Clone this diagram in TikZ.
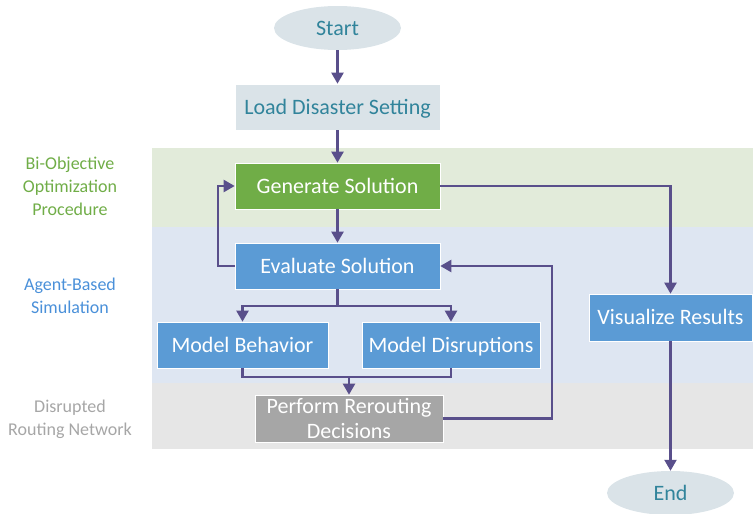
\documentclass[tikz,border=0pt]{standalone}
\usepackage{fontspec}
\setmainfont{Carlito}
\usetikzlibrary{arrows.meta,shapes.geometric}
\definecolor{bandgreen}{HTML}{E2EBDA}
\definecolor{bandblue}{HTML}{DEE6F2}
\definecolor{bandgray}{HTML}{E6E6E6}
\definecolor{boxgreen}{HTML}{70AD47}
\definecolor{boxblue}{HTML}{5B9BD5}
\definecolor{boxgray}{HTML}{A6A6A6}
\definecolor{lightbox}{HTML}{DAE3E8}
\definecolor{tealtext}{HTML}{31849B}
\definecolor{arrowcol}{HTML}{594F8B}
\definecolor{lblgreen}{HTML}{70AD47}
\definecolor{lblblue}{HTML}{4A90D9}
\definecolor{lblgray}{HTML}{A6A6A6}
\begin{document}
\begin{tikzpicture}[x=1pt,y=-1pt,
  procbox/.style={rectangle, draw=white, line width=0.6pt, inner sep=0pt,
    minimum height=46pt, text height=17pt, text depth=2.5pt,
    font=\fontsize{22}{24}\selectfont, text=white},
  terminal/.style={ellipse, fill=lightbox, inner sep=0pt, minimum width=127pt,
    minimum height=44pt, text height=17pt, text depth=2.5pt,
    font=\fontsize{22}{24}\selectfont, text=tealtext},
  lane/.style={font=\fontsize{18}{23}\selectfont, align=center},
  arr/.style={draw=arrowcol, line width=2.2pt,
    -{Triangle[width=12pt,length=11pt]}},
  ln/.style={draw=arrowcol, line width=2.2pt}]
\useasboundingbox (0,0) rectangle (753,514);

% swim lanes
\fill[bandgreen] (152,148) rectangle (753,227);
\fill[bandblue]  (152,227) rectangle (753,383);
\fill[bandgray]  (152,383) rectangle (753,449);

% lane titles
\node[lane, text=lblgreen] (lgreen) at (70,186) {Bi-Objective\\Optimization\\Procedure};
\node[lane, text=lblblue]  (lblue)  at (70,295.5) {Agent-Based\\Simulation};
\node[lane, text=lblgray]  (lgray)  at (70,419.5) {Disrupted\\Routing Network};

% terminals and steps
\node[terminal] (start) at (337.5,28) {Start};
\node[procbox, fill=lightbox, text=tealtext, minimum width=205pt] (load) at (337.5,107) {Load Disaster Setting};
\node[procbox, fill=boxgreen, minimum width=205pt] (gen) at (337.5,186) {Generate Solution};
\node[procbox, fill=boxblue, minimum width=205pt] (eval) at (337.5,266) {Evaluate Solution};
\node[procbox, fill=boxblue, minimum width=171pt] (mb) at (242.5,345) {Model Behavior};
\node[procbox, fill=boxblue, minimum width=178pt] (md) at (451,345) {Model Disruptions};
\node[rectangle, draw=white, line width=0.6pt, inner sep=0pt, fill=boxgray,
  text=white, minimum width=188pt, minimum height=47pt, align=center,
  font=\fontsize{22}{25}\selectfont] (perf) at (349,418.5) {Perform Rerouting\\Decisions};
\node[procbox, fill=boxblue, minimum width=163pt, minimum height=47pt] (vis) at (670.5,317.5) {Visualize Results};
\node[terminal] (end) at (670.5,493) {End};

% junction points
\coordinate (split) at (337.5,306);
\coordinate (merge) at (349,377);
\coordinate (fb) at (552,266);
\coordinate (loop) at (218,266);

% connectors
\draw[arr] (start) -- (load);
\draw[arr] (load) -- (gen);
\draw[arr] (gen) -- (eval);
\draw[arr] (eval.west) -- (loop) |- (gen.west);
\draw[ln] (eval.south) -- (split);
\draw[arr] (split) -| (mb.north);
\draw[arr] (split) -| (md.north);
\draw[ln] (mb.south) |- (merge) -| (md.south);
\draw[arr] (merge) -- (perf.north);
\draw[arr] (perf.east) -| (fb) -- (eval.east);
\draw[arr] (gen.east) -| (vis.north);
\draw[arr] (vis) -- (end);
\end{tikzpicture}
\end{document}
